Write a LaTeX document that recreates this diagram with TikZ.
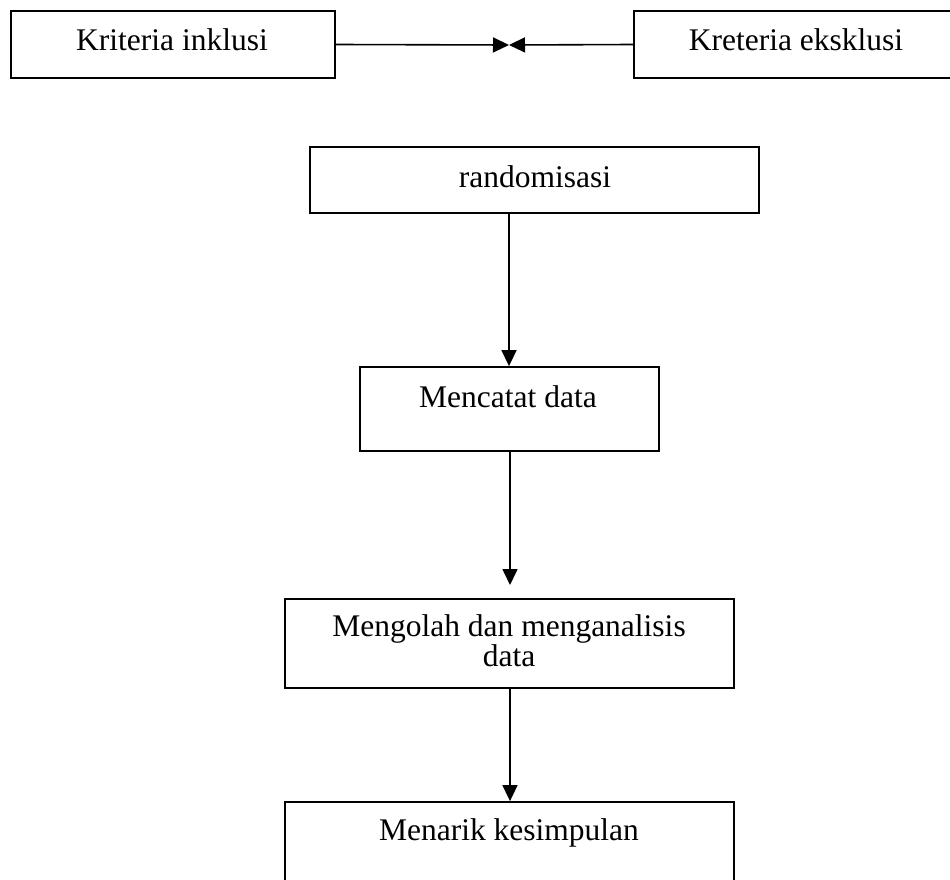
\documentclass[tikz,border=0pt]{standalone}
\usepackage{fontspec}
\setmainfont{Liberation Serif}
\usetikzlibrary{arrows.meta}
\begin{document}
\begin{tikzpicture}[x=1pt,y=-1pt,
  box/.style={draw,line width=1.8pt,rectangle,inner sep=0pt},
  lbl/.style={anchor=base,inner sep=0pt,font=\fontsize{31.5}{34}\selectfont},
  flow/.style={line width=1.6pt,-{Triangle[length=16pt,width=15pt]}}]
\useasboundingbox (0,0) rectangle (950,880);
\clip (0,0) rectangle (950,880);
% boxes
\node[box,minimum width=324pt,minimum height=67pt] (inkl) at (173,44.5) {};
\node[box,minimum width=330pt,minimum height=67pt] (eksk) at (799,44.5) {};
\node[box,minimum width=449pt,minimum height=66pt] (rand) at (534.5,180) {};
\node[box,minimum width=299pt,minimum height=84pt] (catat) at (509.5,409) {};
\node[box,minimum width=449pt,minimum height=89pt] (olah) at (509.5,643.5) {};
\node[box,minimum width=449pt,minimum height=100pt] (tarik) at (509.5,852) {};
% labels
\node[lbl] (tinkl) at (172,51) {Kriteria inklusi};
\node[lbl] (teksk) at (796,51) {Kreteria eksklusi};
\node[lbl] (trand) at (535,187) {randomisasi};
\node[lbl] (tcatat) at (508,407) {Mencatat data};
\node[lbl,anchor=center,align=center,font=\fontsize{31.5}{28}\selectfont]
  (tolah) at (509,640.5) {Mengolah dan menganalisis\\data};
\node[lbl] (ttarik) at (509,840) {Menarik kesimpulan};
% connectors
\coordinate (meet) at (509,45);
\coordinate (olahin) at (510,585);
\draw[flow] (inkl.east) -- (meet);
\draw[flow] (eksk.west) -- (meet);
\draw[flow] (rand.south -| 509,0) -- (catat.north -| 509,0);
\draw[flow] (catat.south -| olahin) -- (olahin);
\draw[flow] (olah.south -| olahin) -- (tarik.north -| olahin);
\end{tikzpicture}
\end{document}
